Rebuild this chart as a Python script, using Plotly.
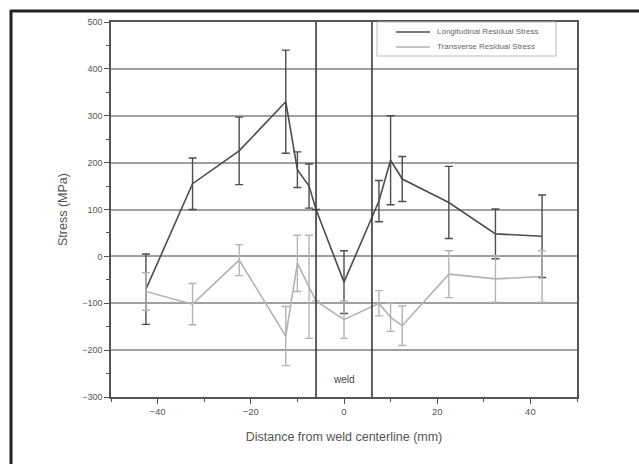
import numpy as np
import plotly.graph_objects as go

# Longitudinal residual stress: position (mm), stress (MPa), error (MPa)
long_x = [-42.5, -32.5, -22.5, -12.5, -10, -7.5, -6, 0, 7.5, 10, 12.5, 22.5, 32.5, 42.5]
long_y = [-70, 155, 225, 330, 185, 150, 100, -55, 118, 205, 165, 115, 48, 43]
long_err = [75, 55, 72, 110, 38, 47, np.nan, 67, 44, 95, 48, 77, 53, 88]

# Transverse residual stress
trans_x = [-42.5, -32.5, -22.5, -12.5, -10, -7.5, -6, 0, 7.5, 10, 12.5, 22.5, 32.5, 42.5]
trans_y = [-75, -102, -8, -170, -15, -65, -95, -135, -100, -130, -148, -38, -48, -43]
trans_err = [40, 44, 33, 63, 60, 110, np.nan, 40, 27, 30, 42, 50, 50, 55]

series_names = ["Longitudinal Residual Stress", "Transverse Residual Stress"]
weld_edges = [-6, 6]
y_ticks = [-300, -200, -100, 0, 100, 200, 300, 400, 500]
x_ticks = [-40, -20, 0, 20, 40]

DARK = "#4d4d4d"
LIGHT = "#b3b3b3"
FONT = "Liberation Sans, Arial, sans-serif"

fig = go.Figure()
fig.add_trace(go.Scatter(
    x=long_x, y=long_y, mode="lines", name=series_names[0],
    line=dict(color=DARK, width=1.6),
    error_y=dict(type="data", array=long_err, color=DARK, thickness=1.4, width=4),
))
fig.add_trace(go.Scatter(
    x=trans_x, y=trans_y, mode="lines", name=series_names[1],
    line=dict(color=LIGHT, width=1.6),
    error_y=dict(type="data", array=trans_err, color=LIGHT, thickness=1.4, width=4),
))

# weld zone boundaries
for xe in weld_edges:
    fig.add_shape(type="line", xref="x", yref="paper", x0=xe, x1=xe, y0=0, y1=1,
                  line=dict(color="#3a3a3a", width=1.6))

fig.add_annotation(x=0, y=-262, xref="x", yref="y", text="weld", showarrow=False,
                   font=dict(family=FONT, size=10, color="#444"))

# pixel -> paper helpers
L, T, W, H = 111, 22, 466, 375
def px(v):
    return (v - L) / W
def py(v):
    return (T + H - v) / H

# outer frame (top and left edges)
fig.add_shape(type="line", xref="paper", yref="paper", x0=px(10), x1=px(639),
              y0=py(11), y1=py(11), line=dict(color="#222", width=3))
fig.add_shape(type="line", xref="paper", yref="paper", x0=px(11), x1=px(11),
              y0=py(10), y1=py(464), line=dict(color="#222", width=3))

# legend box
fig.add_shape(type="rect", xref="paper", yref="paper", x0=px(377), x1=px(556),
              y0=py(56), y1=py(22), line=dict(color="#bbb", width=1),
              fillcolor="white", layer="above")
for i, (name, col) in enumerate(zip(series_names, [DARK, LIGHT])):
    yy = 32 + 15 * i
    fig.add_shape(type="line", xref="paper", yref="paper", x0=px(396), x1=px(430),
                  y0=py(yy), y1=py(yy), line=dict(color=col, width=1.6))
    fig.add_annotation(xref="paper", yref="paper", x=px(435), y=py(yy), text=name,
                       showarrow=False, xanchor="left", yanchor="middle",
                       font=dict(family=FONT, size=8, color="#666"))

fig.update_layout(
    width=639, height=464,
    margin=dict(l=L, r=639 - L - W, t=T, b=464 - T - H),
    paper_bgcolor="white", plot_bgcolor="white",
    font=dict(family=FONT, color="#555"),
    showlegend=False,
    xaxis=dict(range=[-50, 50], tickvals=x_ticks, ticks="outside", ticklen=5,
               tickcolor="#555", showline=True, linecolor="#555", linewidth=1.5,
               mirror=True, showgrid=False, zeroline=False,
               tickfont=dict(size=9.5, color="#555"),
               minor=dict(dtick=10, ticks="outside", ticklen=3, tickcolor="#555"),
               title=dict(text="Distance from weld centerline (mm)",
                          font=dict(size=12.5, color="#555"), standoff=16)),
    yaxis=dict(range=[-300, 500], tickvals=y_ticks, ticks="outside", ticklen=5,
               tickcolor="#555", showline=True, linecolor="#555", linewidth=1.5,
               mirror=True, showgrid=True, gridcolor="#a0a0a0", gridwidth=1.5,
               zeroline=False, tickfont=dict(size=9, color="#555"),
               minor=dict(dtick=50, ticks="outside", ticklen=3, tickcolor="#555",
                          showgrid=False),
               title=dict(text="Stress (MPa)", font=dict(size=12.5, color="#555"),
                          standoff=12)),
)

fig.write_html("out.html")
